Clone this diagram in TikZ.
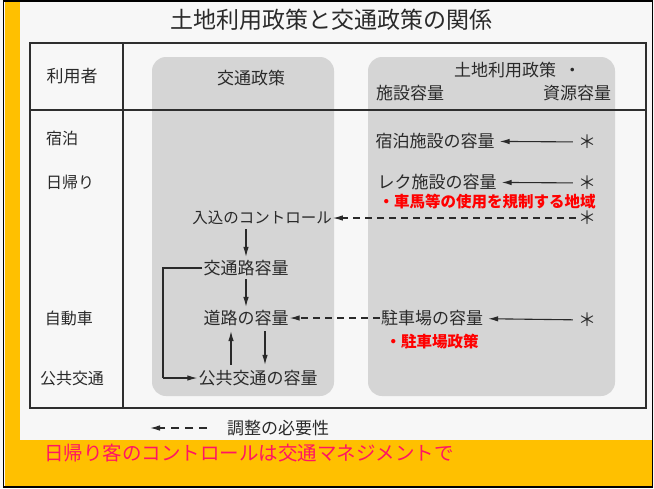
\documentclass[tikz,border=0pt]{standalone}
\usepackage{fontspec}
\setmainfont{Noto Sans CJK JP}
\usetikzlibrary{arrows.meta}
\definecolor{yellowband}{RGB}{255,192,0}
\definecolor{bg}{HTML}{F7F7F7}
\definecolor{boxgray}{HTML}{D5D5D5}
\definecolor{tline}{HTML}{2E2E2E}
\definecolor{pinkred}{HTML}{FF1464}
\definecolor{ink}{HTML}{2A2A2A}
\begin{document}
\begin{tikzpicture}[x=1pt,y=-1pt,
  lbl/.style={inner sep=1pt, text=ink, font=\fontsize{17}{17}\selectfont},
  side/.style={inner sep=1pt, text=ink, font=\fontsize{16}{16}\selectfont},
  redlbl/.style={inner sep=1pt, text=red, font=\fontsize{15.5}{15.5}\selectfont\bfseries},
  starnode/.style={inner sep=1pt, text=ink, font=\fontsize{18}{18}\selectfont},
  arr/.style={draw=ink, line width=1.1pt, -{Latex[length=10pt,width=5.5pt]}},
  darr/.style={arr, dash pattern=on 7pt off 5pt},
  polbox/.style={fill=boxgray, draw=none, rounded corners=14pt},
  tbl/.style={draw=tline, line width=1.8pt}]
\useasboundingbox (0,0) rectangle (654,488);
% background and frame
\fill[fill=bg] (0,0) rectangle (654,488);
\fill[fill=yellowband] (5,0) rectangle (20,488);
\fill[fill=yellowband] (5,440) rectangle (652,486);
\draw[draw=black, line width=1.5pt] (3.5,0.75) rectangle (652.5,486.75);
% title
\node[inner sep=1pt, text=ink, font=\fontsize{23}{23}\selectfont] (title) at (331,20) {土地利用政策と交通政策の関係};
% policy boxes
\path[polbox] (152,57) rectangle (334,396);
\path[polbox] (368,57) rectangle (615,396);
% table
\draw[tbl] (30,43) rectangle (646,408);
\draw[tbl] (30,110) -- (646,110);
\draw[tbl] (123,43) -- (123,408);
% header
\node[side, font=\fontsize{17}{17}\selectfont] (riyosha) at (72,76) {利用者};
\node[lbl] (kotsuseisaku) at (251,78) {交通政策};
\node[lbl, anchor=west] (tochi) at (453,70) {土地利用政策\ \ ・};
\node[lbl] (shisetsu) at (410,93) {施設容量};
\node[lbl] (shigen) at (577,93) {資源容量};
% users
\node[side] (shukuhaku) at (62,138) {宿泊};
\node[side] (higaeri) at (70,182) {日帰り};
\node[side] (jidosha) at (69,318) {自動車};
\node[side] (kokyokotsu) at (72,378) {公共交通};
% capacities
\node[lbl] (shukuyoryo) at (435,141) {宿泊施設の容量};
\node[lbl] (rekuyoryo) at (437,182) {レク施設の容量};
\node[lbl] (chushayoryo) at (432,318) {駐車場の容量};
\node[starnode] (s1) at (587,142) {＊};
\node[starnode] (s2) at (587,183) {＊};
\node[starnode] (s3) at (587,218) {＊};
\node[starnode] (s4) at (587,320) {＊};
\node[redlbl] (kisei) at (487,202) {・車馬等の使用を規制する地域};
\node[redlbl] (chusha) at (432,342) {・駐車場政策};
% transport policy
\node[lbl, font=\fontsize{15.5}{15.5}\selectfont] (iri) at (262,218) {入込のコントロール};
\node[lbl] (kotsuro) at (246,268) {交通路容量};
\node[lbl] (doro) at (246,318) {道路の容量};
\node[lbl] (kokyo) at (258,378) {公共交通の容量};
\coordinate (ux) at (231,0);
\coordinate (dx) at (265,0);
% arrows
\draw[arr, shorten <=4pt, shorten >=4pt] (s1) -- (shukuyoryo);
\draw[arr, shorten <=4pt, shorten >=4pt] (s2) -- (rekuyoryo);
\draw[arr, shorten <=4pt, shorten >=4pt] (s4) -- (chushayoryo);
\draw[darr, shorten <=1pt] (s3) -- (iri);
\draw[darr] (chushayoryo) -- (doro);
\draw[arr, shorten <=3pt, shorten >=2pt] (iri.south -| kotsuro.north) -- (kotsuro.north);
\draw[arr, shorten <=2pt, shorten >=2pt] (kotsuro.south) -- (doro.north);
\draw[arr, shorten <=4pt, shorten >=4pt] (kokyo.north -| ux) -- (doro.south -| ux);
\draw[arr, shorten <=4pt, shorten >=4pt] (doro.south -| dx) -- (kokyo.north -| dx);
\coordinate (bk) at (163,0);
\draw[draw=ink, line width=1.1pt] (kotsuro.west) -- (kotsuro.west -| bk) -- (kokyo.west -| bk);
\draw[arr] (kokyo.west -| bk) -- (kokyo.west);
% legend
\coordinate (lgs) at (207,428);
\node[lbl, anchor=west] (chosei) at (226,428) {調整の必要性};
\coordinate (lge) at (150,428);
\draw[darr, dash pattern=on 8pt off 6pt] (lgs) -- (lge);
% bottom note
\node[inner sep=1pt, anchor=west, text=pinkred, font=\fontsize{19.5}{19.5}\selectfont] (note) at (43,453) {日帰り客のコントロールは交通マネジメントで};
\end{tikzpicture}
\end{document}
